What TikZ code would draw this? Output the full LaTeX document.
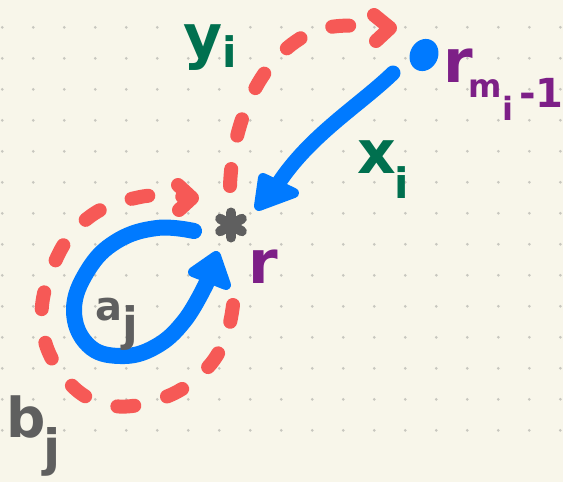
\documentclass[tikz,border=0pt]{standalone}
\usepackage{fontspec}
\setmainfont{DejaVu Sans}
\usetikzlibrary{shapes.geometric}
\definecolor{bg}{HTML}{F8F6EA}
\definecolor{griddot}{HTML}{C8C7BF}
\definecolor{pred}{HTML}{F65956}
\definecolor{pblue}{HTML}{007AFF}
\definecolor{pgreen}{HTML}{00704F}
\definecolor{ppurple}{HTML}{7D1F87}
\definecolor{pgray}{HTML}{5F5F5F}
\begin{document}
\begin{tikzpicture}[x=1pt,y=-1pt,
  reddash/.style={draw=pred, line width=14pt, line cap=round, dash pattern=on 17pt off 34pt},
  redhead/.style={draw=pred, line width=14pt, line cap=round, line join=round},
  bluestroke/.style={draw=pblue, line width=15pt, line cap=round, line join=round},
  bluehead/.style={draw=pblue, fill=pblue, line width=10pt, line join=round},
  lbl/.style={inner sep=0pt, anchor=base west, font=\bfseries\fontsize{60}{60}\selectfont},
  asterisk/.style={draw=pgray, line width=10pt, line cap=round},
]
\fill[bg] (0,0) rectangle (563,482);
\useasboundingbox (0,0) rectangle (563,482);
\foreach \i in {0,...,18} \foreach \j in {1,...,14} \fill[griddot] (2.3+31*\i, -3.7+31*\j) circle (1.5);

% points
\node[ellipse, fill=pblue, minimum width=28pt, minimum height=33pt, inner sep=0pt, rotate=-25] (prev) at (424,55) {};
\coordinate (r) at (231,225);
\foreach \a in {90,30,-30} \draw[asterisk] (r) ++(\a:12.5) -- ++(\a+180:25);

% red dashed y_i
\coordinate (ys) at (230,186);
\coordinate (ye) at (382,28);
\draw[reddash] (ys) .. controls (232,130) and (255,60) .. (310,33) .. controls (335,22) and (360,26) .. (ye);
\draw[redhead] (374,15) -- (390,28) -- (376,41);

% red dashed loop b_j
\coordinate (bs) at (233,305);
\coordinate (be) at (186,197);
\draw[reddash] plot[smooth, tension=0.7] coordinates {(bs) (224,342) (200,375) (160,399) (108,405) (65,378) (42,325) (54,264) (88,218) (140,197) (be)};
\draw[redhead] (178,185) -- (192,198) -- (179,210);

% blue x_i
\coordinate (xs) at (393,73);
\coordinate (xe) at (278,184);
\draw[bluestroke] (xs) .. controls (360,105) and (310,135) .. (xe);
\filldraw[bluehead] (259,206) -- (263,178) -- (294,193) -- cycle;

% blue loop a_j
\coordinate (ls) at (194,231);
\coordinate (le) at (208,280);
\draw[bluestroke, line width=16pt] plot[smooth, tension=0.7] coordinates {(ls) (157,228) (117,241) (88,270) (74,310) (88,345) (120,356) (155,347) (185,320) (le)};
\filldraw[bluehead] (216,256) -- (193,272) -- (226,285) -- cycle;

% labels
\node[lbl, text=pgreen] (yi) at (183,57) {y\raisebox{-10pt}{\fontsize{42}{42}\selectfont i}};
\node[lbl, text=pgreen] (xi) at (357,173) {x\hspace{-1pt}\raisebox{-25pt}{\fontsize{42}{42}\selectfont i}};
\node[lbl, text=ppurple] (rl) at (248,283) {r};
\node[lbl, text=ppurple] (rml) at (443,82) {r\hspace{-4pt}\raisebox{-15pt}{\fontsize{32}{32}\selectfont m\raisebox{-23pt}{i}}\hspace{6pt}\raisebox{-25pt}{\fontsize{40}{40}\selectfont -1}};
\node[lbl, text=pgray, font=\bfseries\fontsize{40}{40}\selectfont] (aj) at (95,320) {a\raisebox{-20pt}{\fontsize{46}{46}\selectfont j}};
\node[lbl, text=pgray, font=\bfseries\fontsize{55}{55}\selectfont] (bj) at (6,437) {b\hspace{-2pt}\raisebox{-28pt}{\fontsize{50}{50}\selectfont j}};
\end{tikzpicture}
\end{document}
